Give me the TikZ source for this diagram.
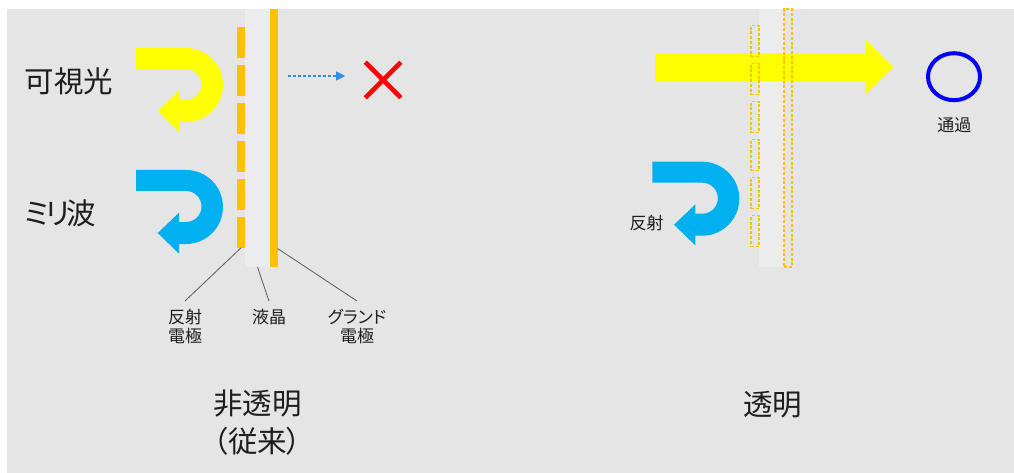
\documentclass[tikz,border=0pt]{standalone}
\usepackage{fontspec}
\setmainfont{Noto Sans CJK JP}[RawFeature={+palt}]
\usetikzlibrary{arrows.meta,shapes.geometric,shapes.misc}
\definecolor{bg}{HTML}{E5E5E5}
\definecolor{strip}{HTML}{ECECEE}
\definecolor{elec}{HTML}{FFC000}
\definecolor{yel}{HTML}{FFFF00}
\definecolor{mmblue}{HTML}{00B0F0}
\definecolor{dblue}{HTML}{2E8FE8}
\definecolor{leadc}{HTML}{595959}
\definecolor{txt}{HTML}{1E1E1E}
\newcommand\UTurn[3]{%
  \begin{scope}[shift={(#1,#2)}]
    \fill[#3] (136,-48) -- (186,-48) arc[start angle=90,end angle=-90,radius=37]
      -- (179,-122) -- (179,-131.7) -- (157.7,-111) -- (179,-90.7) -- (179,-100)
      -- (186,-100) arc[start angle=-90,end angle=90,radius=15.5] -- (136,-69) -- cycle;
  \end{scope}}
\tikzset{
  box/.style={rectangle, inner sep=0pt, outer sep=0pt, anchor=north west},
  dashbox/.style={box, draw=elec, line width=1.3pt, dash pattern=on 3pt off 1.8pt},
  big/.style={font=\fontsize{29.5}{38}\selectfont, text=txt, inner sep=0pt, align=center},
  small/.style={font=\fontsize{17}{19}\selectfont, text=txt, inner sep=0pt, align=center},
  lbl/.style={small, anchor=north, inner ysep=8.5pt},
  leader/.style={draw=leadc, line width=0.8pt},
}
\begin{document}
\begin{tikzpicture}[x=1pt,y=1pt]
\useasboundingbox (0,0) rectangle (1014,-473);
\fill[white] (0,0) rectangle (1014,-473);
\fill[bg] (7,-9) rectangle (1014,-473);

% ---------- left panel ----------
\node[box, fill=strip, minimum width=25pt, minimum height=258pt] (lstrip) at (245,-9) {};
\node[box, fill=elec, minimum width=7.7pt, minimum height=258pt] (lground) at (270,-9) {};
\foreach \i/\y in {1/27.2,2/65.2,3/103.2,4/141.2,5/179.2,6/217.2}
  \node[box, fill=elec, minimum width=7.7pt, minimum height=30.5pt] (ld\i) at (237.3,-\y) {};

\UTurn{0}{0}{yel}
\UTurn{0}{-122}{mmblue}

\node[cross out, draw=red, line width=4.6pt, minimum size=31pt, inner sep=0pt] (xmark) at (383,-80) {};
\coordinate (dstart) at (288,-76);
\draw[dblue, line width=1.1pt, dash pattern=on 3pt off 2pt, shorten >=20pt,
      -{Triangle[length=9pt,width=9pt]}] (dstart) -- (dstart -| xmark.west);

\node[big, anchor=west] (vis) at (24.5,-81.7) {可視光};
\node[big, anchor=west] (mmw) at (24.5,-213) {ミ\kern-3.5pt リ\kern-3pt 波};

\node[lbl] (lbl1) at (185,-301) {反射\\電極};
\node[lbl] (lbl2) at (269,-301) {液晶};
\node[lbl] (lbl3) at (357,-301) {グランド\\電極};
\draw[leader] (ld6.south) -- (lbl1.north);
\draw[leader] (lstrip.south) -- (lbl2.north);
\draw[leader] (lground.-88) -- (lbl3.north);

\node[big] (opaque) at (257.5,-422.5) {非透明\\（従来）};

% ---------- right panel ----------
\node[box, fill=strip, minimum width=25pt, minimum height=258pt] (rstrip) at (759,-9) {};
\fill[yel] (655,-53.3) -- (866,-53.3) -- (866,-40) -- (893.3,-67.3) -- (866,-94.3) -- (866,-81) -- (655,-81) -- cycle;
\node[dashbox, minimum width=8pt, minimum height=258pt] (rground) at (784,-9) {};
\foreach \i/\y in {1/25.7,2/63.7,3/101.7,4/139.7,5/177.7,6/215.7}
  \node[dashbox, minimum width=8pt, minimum height=31pt] (rd\i) at (751,-\y) {};

\UTurn{516.3}{-113.7}{mmblue}

\node[ellipse, draw=blue, line width=4pt, minimum width=52pt, minimum height=47pt, inner sep=0pt] (circ) at (954,-76.7) {};
\node[small] (pass) at (954.3,-125) {通過};
\node[small] (refl) at (646.7,-223.3) {反射};

\node[big] (transp) at (772.7,-405) {透明};
\end{tikzpicture}
\end{document}
